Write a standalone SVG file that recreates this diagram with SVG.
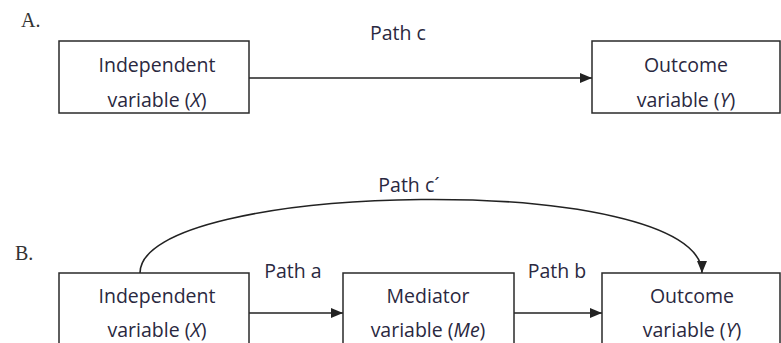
<svg xmlns="http://www.w3.org/2000/svg" width="781" height="343" viewBox="0 0 781 343">
<style>
.box{fill:#fff;stroke:#2a2a2a;stroke-width:1.5}
.t{font-family:"Open Sans","Liberation Sans",sans-serif;font-size:19.5px;fill:#2a2840;text-anchor:middle}
.lbl{font-family:"Liberation Serif",serif;font-size:20px;fill:#333}
.edge{fill:none;stroke:#222;stroke-width:1.6}
</style>
<defs>
<marker id="arr" markerWidth="12" markerHeight="10" refX="12" refY="5" orient="auto" markerUnits="userSpaceOnUse">
<path d="M0,0 L12,5 L0,10 Z" fill="#222"/>
</marker>
</defs>
<rect width="781" height="343" fill="#fff"/>
<text class="lbl" x="21" y="27">A.</text>
<text class="lbl" x="15" y="260">B.</text>
<g id="connectors">
<line class="edge" x1="249" y1="78" x2="592" y2="78" marker-end="url(#arr)"/>
<line class="edge" x1="249" y1="313" x2="343" y2="313" marker-end="url(#arr)"/>
<line class="edge" x1="514" y1="313" x2="602" y2="313" marker-end="url(#arr)"/>
<path class="edge" d="M140,273 C140,180 702,170 702,273" marker-end="url(#arr)"/>
<text class="t" x="398" y="40">Path c</text>
<text class="t" x="409" y="192">Path c´</text>
<text class="t" x="293" y="278">Path a</text>
<text class="t" x="557" y="278">Path b</text>
</g>
<g id="nodeA_X">
<rect class="box" x="59" y="41" width="190" height="72"/>
<text class="t" x="157" y="72">Independent</text>
<text class="t" x="157" y="107">variable (<tspan font-style="italic">X</tspan>)</text>
</g>
<g id="nodeA_Y">
<rect class="box" x="592" y="41" width="188" height="72"/>
<text class="t" x="686" y="72">Outcome</text>
<text class="t" x="686" y="107">variable (<tspan font-style="italic">Y</tspan>)</text>
</g>
<g id="nodeB_X">
<rect class="box" x="59" y="273" width="190" height="80"/>
<text class="t" x="157" y="303">Independent</text>
<text class="t" x="157" y="337">variable (<tspan font-style="italic">X</tspan>)</text>
</g>
<g id="nodeB_Me">
<rect class="box" x="343" y="273" width="171" height="80"/>
<text class="t" x="428" y="303">Mediator</text>
<text class="t" x="428" y="337">variable (<tspan font-style="italic">Me</tspan>)</text>
</g>
<g id="nodeB_Y">
<rect class="box" x="602" y="273" width="178" height="80"/>
<text class="t" x="692" y="303">Outcome</text>
<text class="t" x="692" y="337">variable (<tspan font-style="italic">Y</tspan>)</text>
</g>
</svg>
